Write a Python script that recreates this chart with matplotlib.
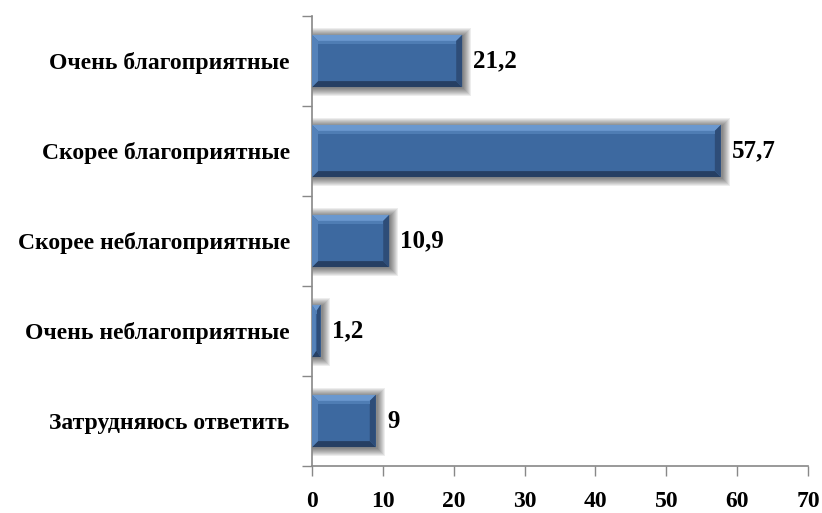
import matplotlib
matplotlib.use("Agg")
import matplotlib.pyplot as plt
from matplotlib.patches import Polygon, Rectangle
import numpy as np

categories = ["Очень благоприятные", "Скорее благоприятные", "Скорее неблагоприятные",
              "Очень неблагоприятные", "Затрудняюсь ответить"]
values = [21.2, 57.7, 10.9, 1.2, 9]
value_labels = ["21,2", "57,7", "10,9", "1,2", "9"]
xticks = [0, 10, 20, 30, 40, 50, 60, 70]

W, H, DPI = 822, 513, 100
fig = plt.figure(figsize=(W / DPI, H / DPI), dpi=DPI)
left, right, bottom, top = 312, 808, 466, 16
ax = fig.add_axes([left / W, 1 - bottom / H, (right - left) / W, (bottom - top) / H])

n = len(categories)
ypos = np.arange(n)[::-1]
ax.set_xlim(0, 70)
ax.set_ylim(-0.5, n - 0.5)

pxx = (right - left) / 70.0
pxy = (bottom - top) / n

h = 0.29
main = "#3D69A0"
toplight = "#6B98CF"
leftc = "#5582B9"
botdark = "#263F63"
rightdark = "#2E4D78"

for y, v in zip(ypos, values):
    # soft shadow, offset right/down
    for k in range(8, 0, -1):
        g = float(k)
        ax.add_patch(Rectangle((0, y - h - (g + 1.0) / pxy), v + (g + 1.0) / pxx,
                               2 * h + (2 * g) / pxy,
                               facecolor="black", edgecolor="none", alpha=0.07, zorder=1))
    bx = min(6 / pxx, v / 2.2)
    by = 6 / pxy
    ax.add_patch(Rectangle((0, y - h), v, 2 * h, facecolor=main, edgecolor="none", zorder=2))
    ax.add_patch(Polygon([(0, y + h), (v, y + h), (v - bx, y + h - by), (bx, y + h - by)],
                         closed=True, facecolor=toplight, edgecolor="none", zorder=3))
    ax.add_patch(Polygon([(0, y - h), (v, y - h), (v - bx, y - h + by), (bx, y - h + by)],
                         closed=True, facecolor=botdark, edgecolor="none", zorder=3))
    ax.add_patch(Polygon([(0, y - h), (0, y + h), (bx, y + h - by), (bx, y - h + by)],
                         closed=True, facecolor=leftc, edgecolor="none", zorder=3))
    ax.add_patch(Polygon([(v, y - h), (v, y + h), (v - bx, y + h - by), (v - bx, y - h + by)],
                         closed=True, facecolor=rightdark, edgecolor="none", zorder=3))
    ax.add_patch(Rectangle((bx, y + h - by - 3 / pxy), max(v - 2 * bx, 0), 3 / pxy,
                           facecolor="#4F7DB4", edgecolor="none", zorder=3))

for y, v, lab in zip(ypos, values, value_labels):
    ax.annotate(lab, xy=(v, y), xytext=(8, 0), textcoords="offset points",
                ha="left", va="center", fontsize=18, fontweight="bold",
                family="Liberation Serif", color="black", zorder=5)

ax.set_yticks(ypos)
ax.set_yticklabels(categories, family="Liberation Serif", weight="bold", size=17)
ax.set_yticks(np.arange(-0.5, n, 1.0), minor=True)
ax.tick_params(axis="y", which="major", length=0, pad=16)
ax.tick_params(axis="y", which="minor", length=7, color="#888888", width=1)
ax.set_xticks(xticks)
ax.set_xticklabels([str(t) for t in xticks], family="Liberation Serif", weight="bold", size=17)
ax.tick_params(axis="x", length=7, color="#888888", width=1, pad=11)

for s in ["top", "right"]:
    ax.spines[s].set_visible(False)
for s in ["left", "bottom"]:
    ax.spines[s].set_color("#888888")
    ax.spines[s].set_linewidth(1.2)

fig.savefig("out.png", dpi=DPI)
